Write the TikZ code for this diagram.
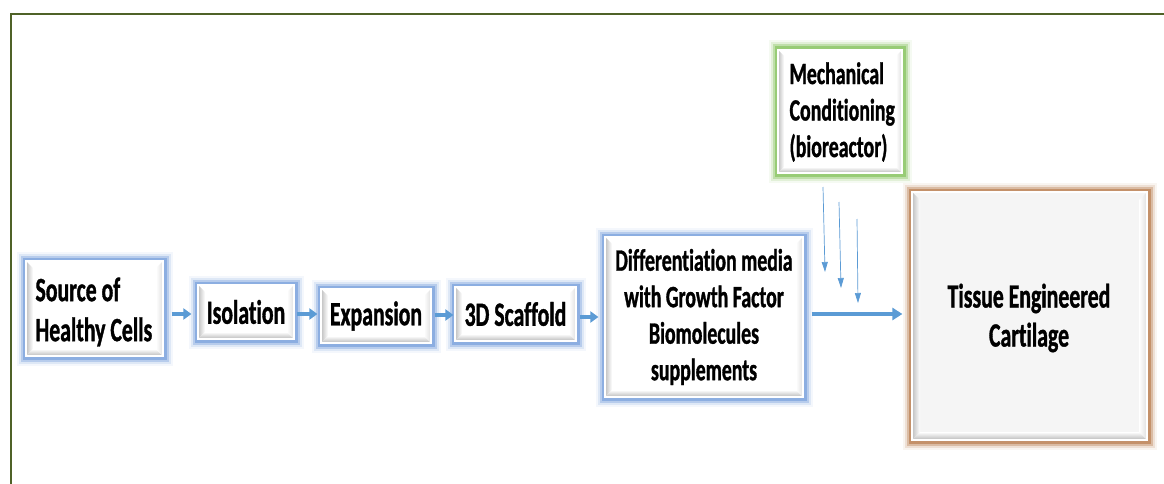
\documentclass[tikz,border=0pt]{standalone}
\usepackage{fontspec}
\setmainfont{Carlito}[FakeStretch=0.64, Ligatures={NoCommon}, BoldFeatures={FakeBold=1}]
\usetikzlibrary{arrows.meta,calc}
\definecolor{frameG}{HTML}{4F6228}
\definecolor{glowB}{HTML}{7EA4DE}
\definecolor{glowG}{HTML}{8CC665}
\definecolor{glowR}{HTML}{BD8458}
\definecolor{arrB}{HTML}{5B9BD5}
\tikzset{
  bevel/.style={path picture={
    \coordinate (NW) at (path picture bounding box.north west);
    \coordinate (NE) at (path picture bounding box.north east);
    \coordinate (SW) at (path picture bounding box.south west);
    \coordinate (SE) at (path picture bounding box.south east);
    \shade[left color=gray!50, right color=white] (NW) -- (SW) -- ($(SW)+(#1,#1)$) -- ($(NW)+(#1,-#1)$) -- cycle;
    \shade[bottom color=gray!55, top color=white] (SW) -- (SE) -- ($(SE)+(-#1,#1)$) -- ($(SW)+(#1,#1)$) -- cycle;
    \shade[right color=gray!25, left color=white] (NE) -- (SE) -- ($(SE)+(-#1,#1)$) -- ($(NE)+(-#1,-#1)$) -- cycle;
  }},
  glow/.style={
    preaction={draw=#1, line width=19pt, opacity=0.08},
    preaction={draw=#1, line width=15pt, opacity=0.18},
    preaction={draw=#1, line width=11pt, opacity=0.4},
    preaction={draw=#1, line width=7pt, opacity=0.75}},
  boxbase/.style={rectangle, inner sep=0pt, text=black, draw=white, line width=1.2pt},
  bluebox/.style={boxbase, glow=glowB, fill=white, bevel=7pt},
  greenbox/.style={boxbase, glow=glowG, fill=white, bevel=6pt},
  brownbox/.style={boxbase, glow=glowR, fill=gray!8, bevel=8pt},
  arr/.style={draw=arrB, line width=3.2pt, -{Triangle[length=8pt,width=11pt]}},
  arrbig/.style={draw=arrB, line width=3.4pt, -{Triangle[length=10pt,width=12pt]}},
  thin/.style={draw=arrB, line width=0.7pt, -{Triangle[length=10pt,width=6pt]}},
  big/.style={font=\bfseries\fontsize{34}{40}\selectfont},
  mid/.style={font=\bfseries\fontsize{31}{36.5}\selectfont},
}
\begin{document}
\begin{tikzpicture}[x=1pt,y=-1pt]
\useasboundingbox (0,0) rectangle (1164,484);
\fill[white] (0,0) rectangle (1164,484);
\draw[frameG, line width=1.2pt] (11,484) -- (11,14) -- (1164,14);

\node[bluebox, minimum width=137pt, minimum height=95pt] (src) at (94.5,308.5) {};
\node[big, align=left, anchor=west] (srct) at (32,312) {Source of\\Healthy Cells};
\node[bluebox, big, minimum width=96pt, minimum height=54pt] (iso) at (246,312) {Isolation};
\node[bluebox, big, minimum width=110pt, minimum height=54pt] (exp) at (376,316) {Expansion};
\node[bluebox, big, minimum width=121pt, minimum height=54pt] (scaf) at (515.5,314) {3D Scaffold};
\node[bluebox, minimum width=198pt, minimum height=160pt] (diff) at (704,317) {};
\node[mid, align=center] (difft) at (704,317) {Differentiation media\\with Growth Factor\\Biomolecules\\supplements};
\node[greenbox, minimum width=124pt, minimum height=123pt] (mech) at (840,111.5) {};
\node[mid, align=left, anchor=west] (mecht) at (786,112) {Mechanical\\Conditioning\\(bioreactor)};
\node[brownbox, minimum width=235pt, minimum height=248pt] (tis) at (1029.5,316) {};
\node[align=center, font=\bfseries\fontsize{34}{39}\selectfont] (tist) at (1029,318) {Tissue Engineered\\Cartilage};

\draw[arr, shorten <=8pt, shorten >=6pt] (src.east |- 0,314) -- (iso.west |- 0,314);
\draw[arr, shorten <=2pt, shorten >=3pt] (iso.east |- 0,314) -- (exp.west |- 0,314);
\draw[arr, shorten <=3pt, shorten >=1pt] (exp.east |- 0,315) -- (scaf.west |- 0,315);
\draw[arr, shorten <=3pt, shorten >=6pt] (scaf.east |- 0,317) -- (diff.west |- 0,317);
\draw[arrbig, shorten <=8pt, shorten >=9pt] (diff.east |- 0,314) -- (tis.west |- 0,314);

\coordinate (t1s) at (823,187); \coordinate (t1e) at (825,272);
\coordinate (t2s) at (839,202); \coordinate (t2e) at (841,288);
\coordinate (t3s) at (857,219); \coordinate (t3e) at (858,303);
\draw[thin] (t1s) -- (t1e);
\draw[thin] (t2s) -- (t2e);
\draw[thin] (t3s) -- (t3e);
\end{tikzpicture}
\end{document}
